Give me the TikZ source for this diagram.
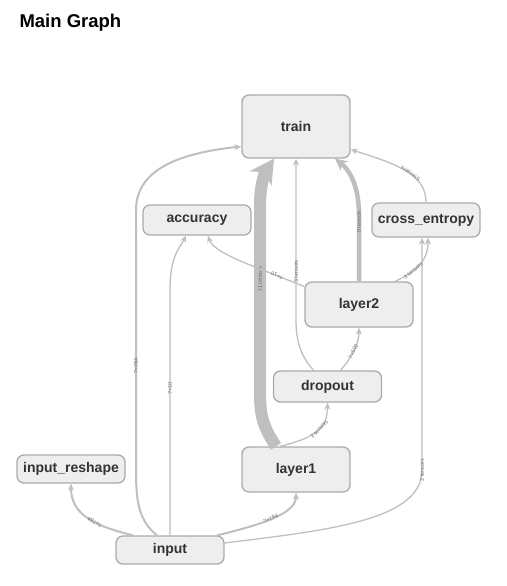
\documentclass[tikz,border=0pt]{standalone}
\usepackage{fontspec}
\setmainfont{Liberation Sans}
\usepackage{tikz}
\usetikzlibrary{arrows.meta,calc}
\definecolor{opfill}{HTML}{EEEEEE}
\definecolor{opline}{HTML}{ABABAB}
\definecolor{optext}{HTML}{333333}
\definecolor{edgegray}{HTML}{BFBFBF}
\definecolor{labelgray}{HTML}{707070}
\tikzset{
	op/.style={draw=opline, fill=opfill, line width=1.3pt, rounded corners=7pt, minimum width=108pt, inner sep=0pt, text=optext, font=\fontsize{14}{14}\selectfont\bfseries},
	flow/.style={draw=edgegray, line width=1.3pt, -{Stealth[length=7pt,width=6pt]}},
	dataflow/.style={flow, line width=2pt},
	tlabel/.style={sloped, allow upside down, text=labelgray, inner sep=1pt, font=\fontsize{5.5}{5.5}\selectfont}
}

\begin{document}
\begin{tikzpicture}[x=1pt,y=-1pt]
\useasboundingbox (0,0) rectangle (506,586);

\node [anchor=base west, font=\fontsize{18.5}{18.5}\selectfont\bfseries] (title) at (16,28) {Main Graph};

\node [op, minimum height=63pt] (train) at (296,126.5) {train};
\node [op, minimum height=30pt] (accuracy) at (197,220) {accuracy};
\node [op, minimum height=34pt] (xent) at (426,220) {cross\_entropy};
\node [op, minimum height=45pt] (layer2) at (359,304.5) {layer2};
\node [op, minimum height=31pt] (dropout) at (327.5,386.5) {dropout};
\node [op, minimum height=45pt] (layer1) at (296,469.5) {layer1};
\node [op, minimum height=28pt] (reshape) at (71,469) {input\_reshape};
\node [op, minimum height=28pt] (input) at (170,550) {input};

% edges out of input
\draw [dataflow] ([xshift=-13pt]input.north) .. controls (138,520) and (136,500) .. (136,470) -- (136,210) node [tlabel, pos=0.4] {?×784} .. controls (136,165) and (190,152) .. ([yshift=-20pt]train.west);
\draw [flow] (input.north) -- (170,290) node [tlabel, pos=0.6] {?×10} .. controls (170,255) and (180,248) .. ([xshift=-11pt]accuracy.south);
\draw [dataflow] ([xshift=-37pt]input.north) .. controls (95,526) and (71,515) .. (reshape.south) node [tlabel, pos=0.4] {?×784};
\draw [dataflow] ([xshift=47pt]input.north) .. controls (255,526) and (296,515) .. (layer1.south) node [tlabel, pos=0.5] {?×784};
\draw [flow] ([yshift=7pt]input.east) .. controls (330,530) and (422,520) .. (422,470) node [tlabel, pos=1] {2 tensors} -- ([xshift=-4pt]xent.south);

% edges into train
\draw [flow, line width=12pt, -{Stealth[length=24pt,width=26pt]}] ([xshift=-20pt]layer1.north) .. controls (262,425) and (260,415) .. (260,390) -- (260,205) node [tlabel, pos=0.6] {11 tensors} .. controls (260,185) and (265,172) .. ([xshift=-22pt]train.south);
\draw [flow] ([xshift=-14pt]dropout.north) .. controls (300,355) and (296,340) .. (296,320) -- (train.south) node [tlabel, pos=0.3] {3 tensors};
\draw [flow, line width=4.5pt, -{Stealth[length=12pt,width=12pt]}] (layer2.north) -- (359,215) node [tlabel, pos=0.9] {9 tensors} .. controls (359,190) and (352,172) .. ([xshift=39pt]train.south);
\draw [flow] (xent.north) .. controls (426,175) and (400,165) .. ([yshift=-23pt]train.east) node [tlabel, pos=0.45] {5 tensors};

% remaining edges
\draw [flow] ([xshift=-16pt]layer1.north) .. controls (322,436) and (327,425) .. (dropout.south) node [tlabel, pos=0.5] {2 tensors};
\draw [flow] ([xshift=13pt]dropout.north) .. controls (350,360) and (359,345) .. (layer2.south) node [tlabel, pos=0.5] {?×500};
\draw [flow] ([yshift=18pt]layer2.west) -- (250,265) node [tlabel, pos=0.5] {?×10} .. controls (228,256) and (212,248) .. ([xshift=11pt]accuracy.south);
\draw [flow] ([xshift=36pt]layer2.north) .. controls (415,272) and (428,262) .. ([xshift=2pt]xent.south) node [tlabel, pos=0.35] {3 tensors};

\end{tikzpicture}
\end{document}
